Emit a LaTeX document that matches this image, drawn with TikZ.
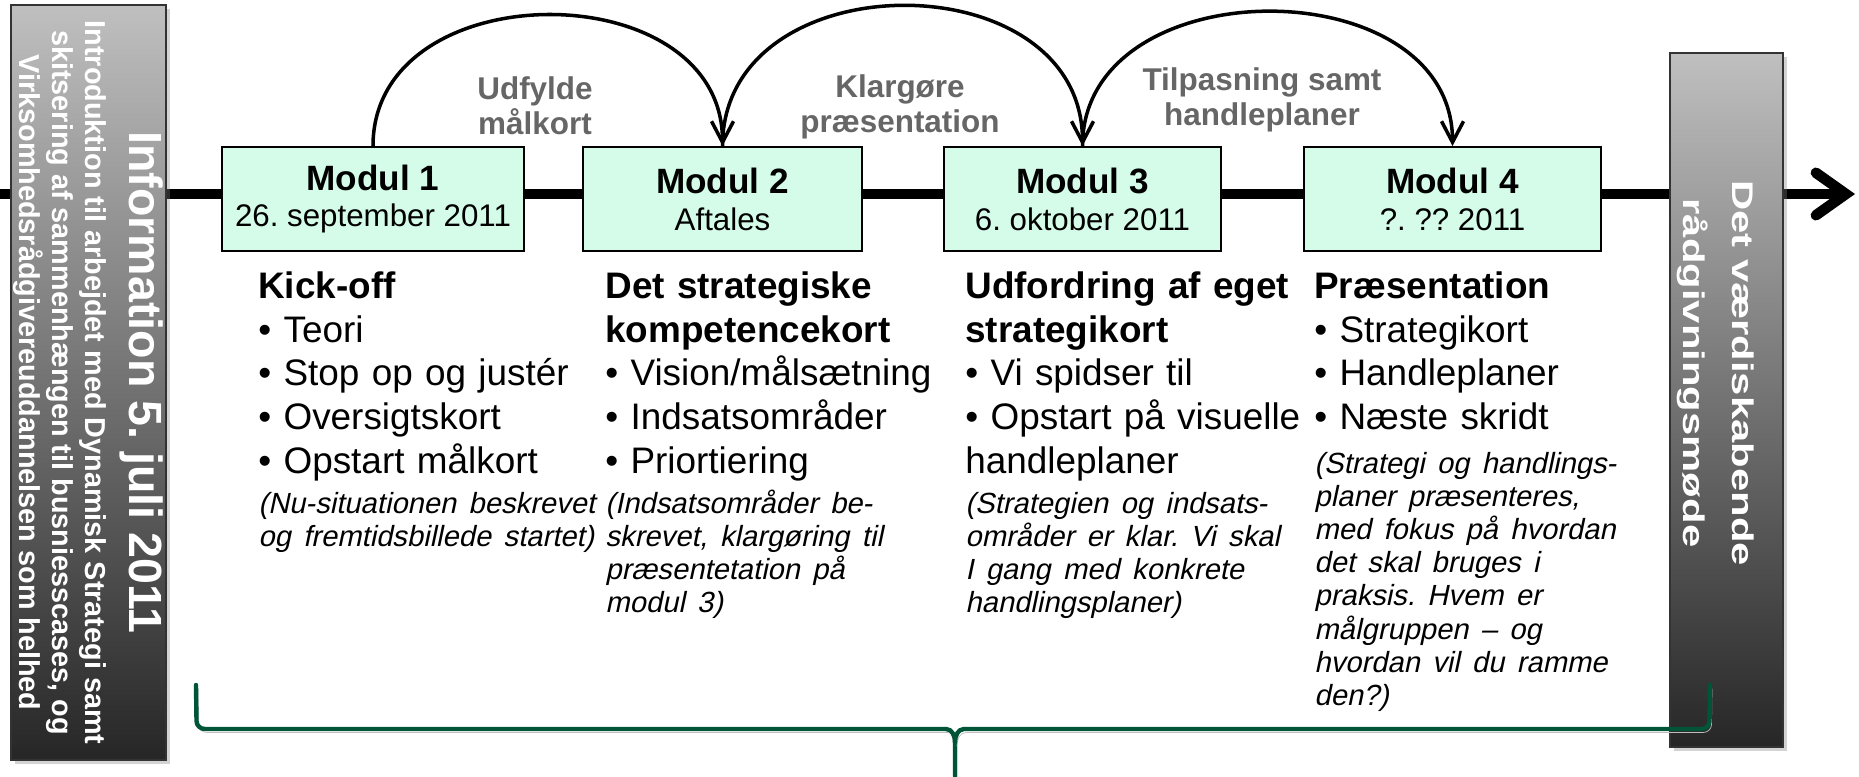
\documentclass[tikz,border=0pt]{standalone}
\usepackage{fontspec}
\setmainfont{Liberation Sans}[ItalicFont={Liberation Sans}, ItalicFeatures={FakeSlant=0.21}, BoldItalicFont={Liberation Sans Bold}, BoldItalicFeatures={FakeSlant=0.21}]
\usepackage{tikz}
\usetikzlibrary{arrows.meta,shadows}
\definecolor{mintfill}{RGB}{212,252,233}
\definecolor{bracegreen}{RGB}{0,84,56}
\definecolor{labelgray}{RGB}{102,102,102}
\newcommand{\notefont}{\itshape\fontsize{16.6}{18.9}\selectfont}
\frenchspacing

\begin{document}
\begin{tikzpicture}[
    modul/.style={draw=black, line width=1.1pt, fill=mintfill, minimum height=2.08cm, align=center, inner sep=0pt, font=\fontsize{17.8}{21}\selectfont},
    infobox/.style={draw=black!80, line width=0.9pt, top color=black!25, middle color=black!55, bottom color=black!85, text=white, inner sep=0pt, drop shadow={opacity=0.35, shadow xshift=0.08cm, shadow yshift=-0.08cm}},
    arc/.style={line width=2pt, -{Straight Barb[length=0.42cm,width=0.44cm]}},
    arclabel/.style={text=labelgray, font=\bfseries\fontsize{17.9}{19.8}\selectfont, align=center},
    col/.style={anchor=north west, inner sep=0pt, text width=7cm, align=left, font=\fontsize{21}{25}\selectfont},
    brace/.style={draw=bracegreen, line width=2.5pt, line cap=round, line join=round, preaction={draw=black!25, transform canvas={shift={(0.04cm,-0.07cm)}}}}
]
    \useasboundingbox (0,0) rectangle (37.18,-15.52);

    % Time line
    \coordinate (lineStart) at (0,-3.88);
    \coordinate (lineEnd) at (37.1,-3.88);
    \draw[line width=6pt, line cap=round, -{Straight Barb[length=0.6cm,width=0.85cm,line cap=round]}] (lineStart) -- (lineEnd);

    % Information and final meeting
    \node[infobox, minimum width=3.10cm, minimum height=15.10cm] (info) at (1.77,-7.65) {\rotatebox{-90}{\parbox{15cm}{\centering
        {\bfseries\fontsize{26.5}{30}\selectfont Information 5. juli 2011\par}\vspace{0.22cm}
        {\bfseries\fontsize{16.4}{18.7}\selectfont Introduktion til arbejdet med Dynamisk Strategi samt\\skitsering af sammenhængen til busniesscases, og\\Virksomhedsrådgivereuddannelsen som helhed\par}}}};
    \node[infobox, minimum width=2.26cm, minimum height=13.88cm] (moede) at (34.53,-8.0) {};
    \node[rotate=-90, text=white, align=center, inner sep=0pt, font=\bfseries\fontsize{17}{28}\selectfont] (moedetext) at ([xshift=-0.22cm,yshift=0.54cm]moede.center) {\scalebox{1.4}[1]{Det værdiskabende}\\\scalebox{1.4}[1]{rådgivningsmøde}};

    % Moduler
    \node[modul, minimum width=6.04cm] (m1) at (7.46,-3.98) {{\bfseries\fontsize{20}{21}\selectfont Modul 1}\\26. september 2011};
    \node[modul, minimum width=5.58cm] (m2) at (14.45,-3.98) {{\bfseries\fontsize{20}{21}\selectfont Modul 2}\\Aftales};
    \node[modul, minimum width=5.54cm] (m3) at (21.65,-3.98) {{\bfseries\fontsize{20}{21}\selectfont Modul 3}\\6. oktober 2011};
    \node[modul, minimum width=5.94cm] (m4) at (29.05,-3.98) {{\bfseries\fontsize{20}{21}\selectfont Modul 4}\\?. ?? 2011};

    % Arcs between moduler
    \draw[arc] (m1.north) to[out=90,in=90,looseness=1.28] (m2.north);
    \draw[arc] (m2.north) to[out=90,in=90,looseness=1.33] (m3.north);
    \draw[arc] (m3.north) to[out=90,in=90,looseness=1.24] (m4.north);
    \node[arclabel] (l1) at (10.70,-2.12) {Udfylde\\målkort};
    \node[arclabel] (l2) at (18.00,-2.14) {Klargøre\\præsentation};
    \node[arclabel] (l3) at (25.24,-2.00) {Tilpasning samt\\handleplaner};

    % Contents
    \node[col] (c1) at (5.16,-5.42) {\textbf{Kick-off}\\• Teori\\• Stop op og justér\\• Oversigtskort\\• Opstart målkort\par\vspace{0.12cm}
        {\notefont (Nu-situationen beskrevet\\og fremtidsbillede startet)\par}};
    \node[col] (c2) at (12.10,-5.42) {\textbf{Det strategiske}\\\textbf{kompetencekort}\\• Vision/målsætning\\• Indsatsområder\\• Priortiering\par\vspace{0.12cm}
        {\notefont (Indsatsområder be-\\skrevet, klargøring til\\præsentetation på\\modul 3)\par}};
    \node[col] (c3) at (19.30,-5.42) {\textbf{Udfordring af eget}\\\textbf{strategikort}\\• Vi spidser til\\• Opstart på visuelle\\handleplaner\par\vspace{0.12cm}
        {\notefont (Strategien og indsats-\\områder er klar. Vi skal\\I gang med konkrete\\handlingsplaner)\par}};
    \node[col] (c4) at (26.28,-5.42) {\textbf{Præsentation}\\• Strategikort\\• Handleplaner\\• Næste skridt\par\vspace{0.2cm}
        {\notefont (Strategi og handlings-\\planer præsenteres,\\med fokus på hvordan\\det skal bruges i\\praksis. Hvem er\\målgruppen -- og\\hvordan vil du ramme\\den?)\par}};

    % Bracket
    \draw[brace] (3.92,-13.70) -- (3.93,-14.42) to[out=-90,in=180] (4.10,-14.58) -- (18.92,-14.58) to[out=0,in=90] (19.10,-14.85) -- (19.10,-15.52);
    \draw[brace] (34.20,-13.70) -- (34.19,-14.42) to[out=-90,in=0] (34.02,-14.58) -- (19.28,-14.58) to[out=180,in=90] (19.10,-14.85);
\end{tikzpicture}
\end{document}
